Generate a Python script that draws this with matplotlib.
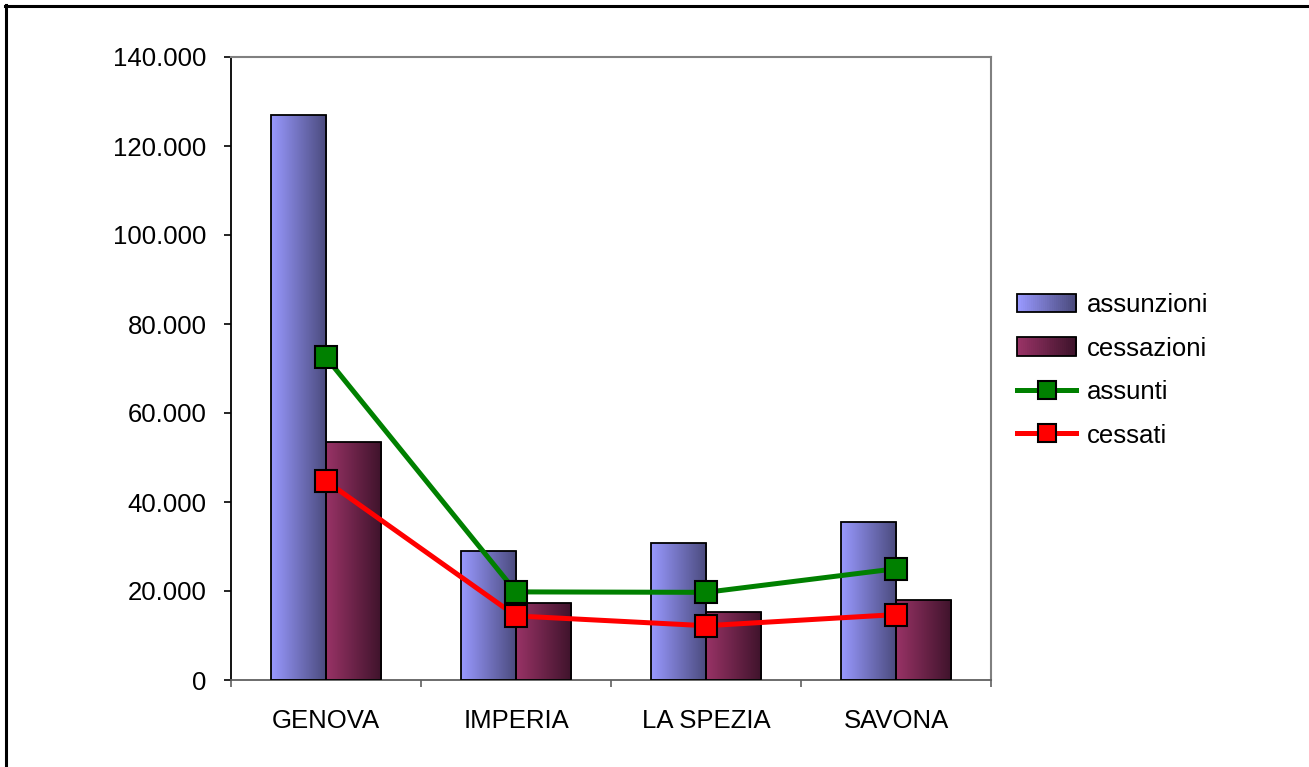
import matplotlib.pyplot as plt
import numpy as np
from matplotlib.lines import Line2D
from matplotlib.patches import Rectangle
from matplotlib.legend_handler import HandlerBase
from matplotlib.colors import LinearSegmentedColormap
from matplotlib.ticker import FuncFormatter, MultipleLocator

# =============================================================================
# DATA
# =============================================================================
province = ["GENOVA", "IMPERIA", "LA SPEZIA", "SAVONA"]
assunzioni = [127000, 29000, 30700, 35600]
cessazioni = [53400, 17200, 15200, 18000]
assunti = [72500, 19800, 19700, 25000]
cessati = [44700, 14400, 12200, 14700]

# =============================================================================
# STYLE
# =============================================================================
plt.rcParams['font.family'] = ['Liberation Sans', 'DejaVu Sans']
FS = 18.5

cmap_ass = LinearSegmentedColormap.from_list("ass", ["#9999FF", "#4A4A7C"])
cmap_ces = LinearSegmentedColormap.from_list("ces", ["#993366", "#3E132B"])
grad = np.linspace(0, 1, 256).reshape(1, -1)


class GradientHandler(HandlerBase):
    def __init__(self, cmap):
        super().__init__()
        self.cmap = cmap

    def create_artists(self, legend, orig_handle, xdescent, ydescent,
                       width, height, fontsize, trans):
        arts = []
        n = 30
        for k in range(n):
            r = Rectangle((-xdescent + width * k / n, -ydescent), width / n + 0.3,
                          height, facecolor=self.cmap(k / (n - 1)),
                          edgecolor='none', transform=trans)
            arts.append(r)
        frame = Rectangle((-xdescent, -ydescent), width, height, facecolor='none',
                          edgecolor='black', lw=1.3, transform=trans)
        arts.append(frame)
        return arts


fig = plt.figure(figsize=(13.09, 7.67), dpi=100)
ax = fig.add_axes([231 / 1309, 1 - 680 / 767, 760 / 1309, 623 / 767])

x = np.arange(len(province))
w = 0.292


def gradient_bar(xl, h, cmap):
    rect = Rectangle((xl, 0), w, h, facecolor='none', edgecolor='black',
                     lw=1.3, zorder=3)
    ax.add_patch(rect)
    im = ax.imshow(grad, cmap=cmap, extent=(xl, xl + w, 0, h), aspect='auto',
                   zorder=2, interpolation='bilinear')
    im.set_clip_path(rect)


for i in range(len(province)):
    gradient_bar(x[i] - w, assunzioni[i], cmap_ass)
    gradient_bar(x[i], cessazioni[i], cmap_ces)

line_kw = dict(lw=3.6, markersize=15.5, markeredgecolor='black', mew=1.5, zorder=5)
ax.plot(x, assunti, '-s', color='#008000', markerfacecolor='#008000', **line_kw)
ax.plot(x, cessati, '-s', color='#FF0000', markerfacecolor='#FF0000', **line_kw)

ax.set_xlim(-0.5, len(province) - 0.5)
ax.set_ylim(0, 140000)

# axes styling
for s in ['top', 'right']:
    ax.spines[s].set_color('#808080')
    ax.spines[s].set_linewidth(1.5)
ax.spines['left'].set_color('black')
ax.spines['left'].set_linewidth(1.3)
ax.spines['bottom'].set_color('#606060')
ax.spines['bottom'].set_linewidth(1.3)

ax.yaxis.set_major_locator(MultipleLocator(20000))
ax.yaxis.set_major_formatter(FuncFormatter(lambda v, p: f"{int(v):,}".replace(",", ".")))
ax.tick_params(axis='y', direction='out', length=5, width=1.2, pad=12.5,
               labelsize=FS, colors='black')

ax.set_xticks(np.arange(len(province) + 1) - 0.5)
ax.set_xticklabels([])
ax.tick_params(axis='x', which='major', direction='out', length=5, width=1.2,
               color='#606060')
ax.set_xticks(x, minor=True)
ax.set_xticklabels(province, minor=True)
ax.tick_params(axis='x', which='minor', length=0, pad=21, labelsize=FS)

# legend
handles = [Rectangle((0, 0), 1, 1), Rectangle((0, 0), 1, 1),
           Line2D([], [], color='#008000', markerfacecolor='#008000', marker='s',
                  lw=3.6, markersize=15.5, markeredgecolor='black', mew=1.5),
           Line2D([], [], color='#FF0000', markerfacecolor='#FF0000', marker='s',
                  lw=3.6, markersize=15.5, markeredgecolor='black', mew=1.5)]
labels = ["assunzioni", "cessazioni", "assunti", "cessati"]
fig.legend(handles, labels, loc='upper left',
           bbox_to_anchor=(1017 / 1309, 1 - 293 / 767),
           frameon=False, fontsize=FS, borderpad=0, borderaxespad=0,
           handlelength=2.3, handleheight=0.75, handletextpad=0.4,
           labelspacing=0.76, markerscale=0.82,
           handler_map={handles[0]: GradientHandler(cmap_ass),
                        handles[1]: GradientHandler(cmap_ces)})

# outer frame (top and left edges visible)
fig.add_artist(Line2D([5 / 1309, 1], [1 - 5.5 / 767, 1 - 5.5 / 767],
                      transform=fig.transFigure, color='black', lw=2.2))
fig.add_artist(Line2D([6 / 1309, 6 / 1309], [0, 1 - 5 / 767],
                      transform=fig.transFigure, color='black', lw=2.2))

plt.savefig('out.png', dpi=100)
